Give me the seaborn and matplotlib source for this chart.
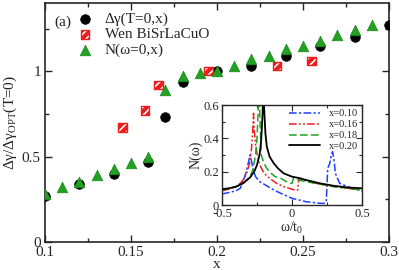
import numpy as np
import pandas as pd
import matplotlib
matplotlib.use("Agg")
import matplotlib.pyplot as plt
import seaborn as sns
from matplotlib.ticker import MultipleLocator, FixedLocator
from matplotlib.legend_handler import HandlerTuple

# ---------------- data ----------------
x_gap = [0.10, 0.12, 0.14, 0.16, 0.17, 0.18, 0.20, 0.22, 0.24, 0.26, 0.28, 0.30]
gap = [0.27, 0.34, 0.40, 0.47, 0.73, 0.94, 1.00, 1.03, 1.09, 1.15, 1.20, 1.27]

x_dos = [0.10, 0.11, 0.12, 0.13, 0.14, 0.15, 0.16, 0.17, 0.18, 0.19,
         0.20, 0.21, 0.22, 0.23, 0.24, 0.25, 0.26, 0.27, 0.28, 0.29]
dos0 = [0.28, 0.32, 0.35, 0.39, 0.43, 0.46, 0.50, 0.89, 0.97, 0.99,
        1.00, 1.03, 1.07, 1.09, 1.13, 1.15, 1.18, 1.21, 1.24, 1.27]

x_wen = [0.145, 0.158, 0.166, 0.195, 0.235, 0.255]
wen = [0.67, 0.77, 0.92, 1.00, 1.03, 1.06]

labels_main = ["\u0394\u03b3(T=0,x)", "Wen BiSrLaCuO", "N(\u03c9=0,x)"]

# inset: N(omega) curves
w_010 = [-0.5, -0.45, -0.4, -0.37, -0.35, -0.33, -0.31, -0.30, -0.29, -0.28, -0.26, -0.23,
         -0.18, -0.13, -0.08, -0.04, 0.0, 0.05, 0.1, 0.15, 0.2, 0.23, 0.245, 0.255, 0.27,
         0.28, 0.29, 0.30, 0.31, 0.34, 0.4, 0.45, 0.5]
n_010 = [0.066, 0.075, 0.085, 0.10, 0.14, 0.19, 0.26, 0.30, 0.27, 0.22, 0.17, 0.14,
         0.115, 0.09, 0.07, 0.055, 0.04, 0.03, 0.02, 0.015, 0.01, 0.01, 0.02, 0.22, 0.25,
         0.30, 0.32, 0.27, 0.19, 0.13, 0.11, 0.095, 0.085]

w_016 = [-0.5, -0.45, -0.4, -0.37, -0.34, -0.32, -0.30, -0.29, -0.28, -0.275, -0.27, -0.26,
         -0.25, -0.23, -0.2, -0.16, -0.11, -0.06, -0.02, 0.02, 0.04, 0.05, 0.08, 0.12, 0.2,
         0.3, 0.4, 0.5]
n_016 = [0.085, 0.095, 0.11, 0.13, 0.16, 0.2, 0.26, 0.33, 0.45, 0.55, 0.45, 0.36,
         0.31, 0.24, 0.19, 0.16, 0.13, 0.11, 0.10, 0.09, 0.09, 0.16, 0.15, 0.14, 0.125,
         0.11, 0.10, 0.09]

w_018 = [-0.5, -0.45, -0.4, -0.35, -0.3, -0.28, -0.26, -0.25, -0.24, -0.235, -0.23, -0.22,
         -0.2, -0.18, -0.15, -0.12, -0.08, -0.04, -0.01, 0.0, 0.01, 0.05, 0.1, 0.2, 0.3,
         0.4, 0.5]
n_018 = [0.09, 0.10, 0.11, 0.13, 0.17, 0.21, 0.30, 0.40, 0.60, 0.80, 0.55, 0.30,
         0.25, 0.22, 0.19, 0.17, 0.16, 0.14, 0.13, 0.13, 0.16, 0.15, 0.14, 0.125, 0.11,
         0.10, 0.09]

w_020 = [-0.5, -0.45, -0.4, -0.35, -0.3, -0.27, -0.25, -0.23, -0.22, -0.21, -0.205, -0.2,
         -0.19, -0.18, -0.16, -0.13, -0.1, -0.06, 0.0, 0.06, 0.1, 0.2, 0.3, 0.4, 0.5]
n_020 = [0.095, 0.10, 0.11, 0.13, 0.165, 0.20, 0.24, 0.31, 0.39, 0.55, 0.80, 0.60,
         0.43, 0.35, 0.29, 0.25, 0.22, 0.19, 0.17, 0.16, 0.15, 0.13, 0.115, 0.105, 0.10]

inset_labels = ["x=0.10", "x=0.16", "x=0.18", "x=0.20"]

# ---------------- style ----------------
sns.set_style("ticks")
plt.rcParams["font.family"] = ["Liberation Serif", "DejaVu Serif"]
plt.rcParams["mathtext.fontset"] = "custom"
plt.rcParams["mathtext.rm"] = "Liberation Serif"
plt.rcParams["mathtext.it"] = "Liberation Serif:italic"
plt.rcParams["hatch.linewidth"] = 1.2

fig = plt.figure(figsize=(3.99, 2.70), dpi=100)
ax = fig.add_axes([45 / 399, 28 / 270, 344 / 399, 239 / 270])

# main scatter series
sns.scatterplot(x=x_gap, y=gap, ax=ax, marker="o", s=48, color="black",
                edgecolor="black", linewidth=0.5, zorder=3)
sq1 = ax.scatter(x_wen, wen, marker="s", s=36, facecolor="#ee1c1c", edgecolor="white",
                 hatch="////", linewidth=0, zorder=4)
sns.scatterplot(x=x_wen, y=wen, ax=ax, marker="s", s=36, facecolor="none",
                edgecolor="#ee1c1c", linewidth=1.0, zorder=4)
sns.scatterplot(x=x_dos, y=dos0, ax=ax, marker="^", s=58, color="#22a022",
                edgecolor="#1a8a1a", linewidth=0.5, zorder=5)

ax.set_xlim(0.1, 0.3)
ax.set_ylim(0, 1.4)
ax.xaxis.set_major_locator(FixedLocator([0.1, 0.15, 0.2, 0.25, 0.3]))
ax.set_xticklabels(["0.1", "0.15", "0.2", "0.25", "0.3"])
ax.xaxis.set_minor_locator(MultipleLocator(0.025))
ax.yaxis.set_major_locator(FixedLocator([0, 0.5, 1.0]))
ax.set_yticklabels(["0", "0.5", "1"])
ax.yaxis.set_minor_locator(MultipleLocator(0.25))
ax.tick_params(which="both", direction="in", top=True, right=True, labelsize=11,
               width=1.0, pad=3)
ax.tick_params(which="major", length=5)
ax.tick_params(which="minor", length=3)
for sp in ax.spines.values():
    sp.set_linewidth(1.2)
ax.set_xlabel("x", fontsize=11, labelpad=-1)
ax.set_ylabel("\u0394\u03b3/\u0394\u03b3$_{\\rm OPT}$(T=0)", fontsize=11, labelpad=2)

ax.text(0.028, 0.918, "(a)", transform=ax.transAxes, fontsize=11, va="center", ha="left")

hs = ax.collections
h_circ = hs[0]
h_sq2 = hs[2]
h_tri = hs[3]
leg = ax.legend([h_circ, (sq1, h_sq2), h_tri], labels_main, loc="upper left",
                bbox_to_anchor=(0.094, 0.962), frameon=False, fontsize=11,
                handlelength=1.0, handletextpad=0.8, labelspacing=0.12,
                borderpad=0, borderaxespad=0,
                handler_map={tuple: HandlerTuple(ndivide=1, pad=0)})

# ---------------- inset ----------------
axi = fig.add_axes([222 / 399, 65 / 270, 140 / 399, 100 / 270])
curves = [(w_010, n_010, "#1f3fff", (5, 1.5, 1.5, 1.5)),
          (w_016, n_016, "#ee1c1c", (5, 1.5, 1.2, 1.5, 1.2, 1.5)),
          (w_018, n_018, "#22a022", (5, 2.2)),
          (w_020, n_020, "black", None)]
for (w, n, c, d), lab in zip(curves, inset_labels):
    df = pd.DataFrame({"w": w, "n": n})
    line_kw = dict(color=c, linewidth=1.1 if d else 1.3, label=lab)
    sns.lineplot(data=df, x="w", y="n", ax=axi, sort=False, **line_kw)
    if d is not None:
        axi.lines[-1].set_dashes(d)

axi.set_xlim(-0.5, 0.5)
axi.set_ylim(0, 0.6)
axi.xaxis.set_major_locator(FixedLocator([-0.5, 0, 0.5]))
axi.set_xticklabels(["-0.5", "0", "0.5"])
axi.xaxis.set_minor_locator(MultipleLocator(0.25))
axi.yaxis.set_major_locator(FixedLocator([0, 0.2, 0.4, 0.6]))
axi.set_yticklabels(["0", "0.2", "0.4", "0.6"])
axi.yaxis.set_minor_locator(MultipleLocator(0.1))
axi.tick_params(which="both", direction="in", top=True, right=True, labelsize=9,
                width=0.8, pad=2)
axi.tick_params(which="major", length=4)
axi.tick_params(which="minor", length=2.5)
for sp in axi.spines.values():
    sp.set_linewidth(1.0)
axi.set_xlabel("\u03c9/t$_0$", fontsize=10, labelpad=0)
axi.set_ylabel("N(\u03c9)", fontsize=10, labelpad=1)
axi.legend(loc="upper right", frameon=False, fontsize=7.5, handlelength=3.0,
           handletextpad=0.8, labelspacing=0.15, borderpad=0.2, borderaxespad=0.2)

fig.savefig("out.png", dpi=100)
